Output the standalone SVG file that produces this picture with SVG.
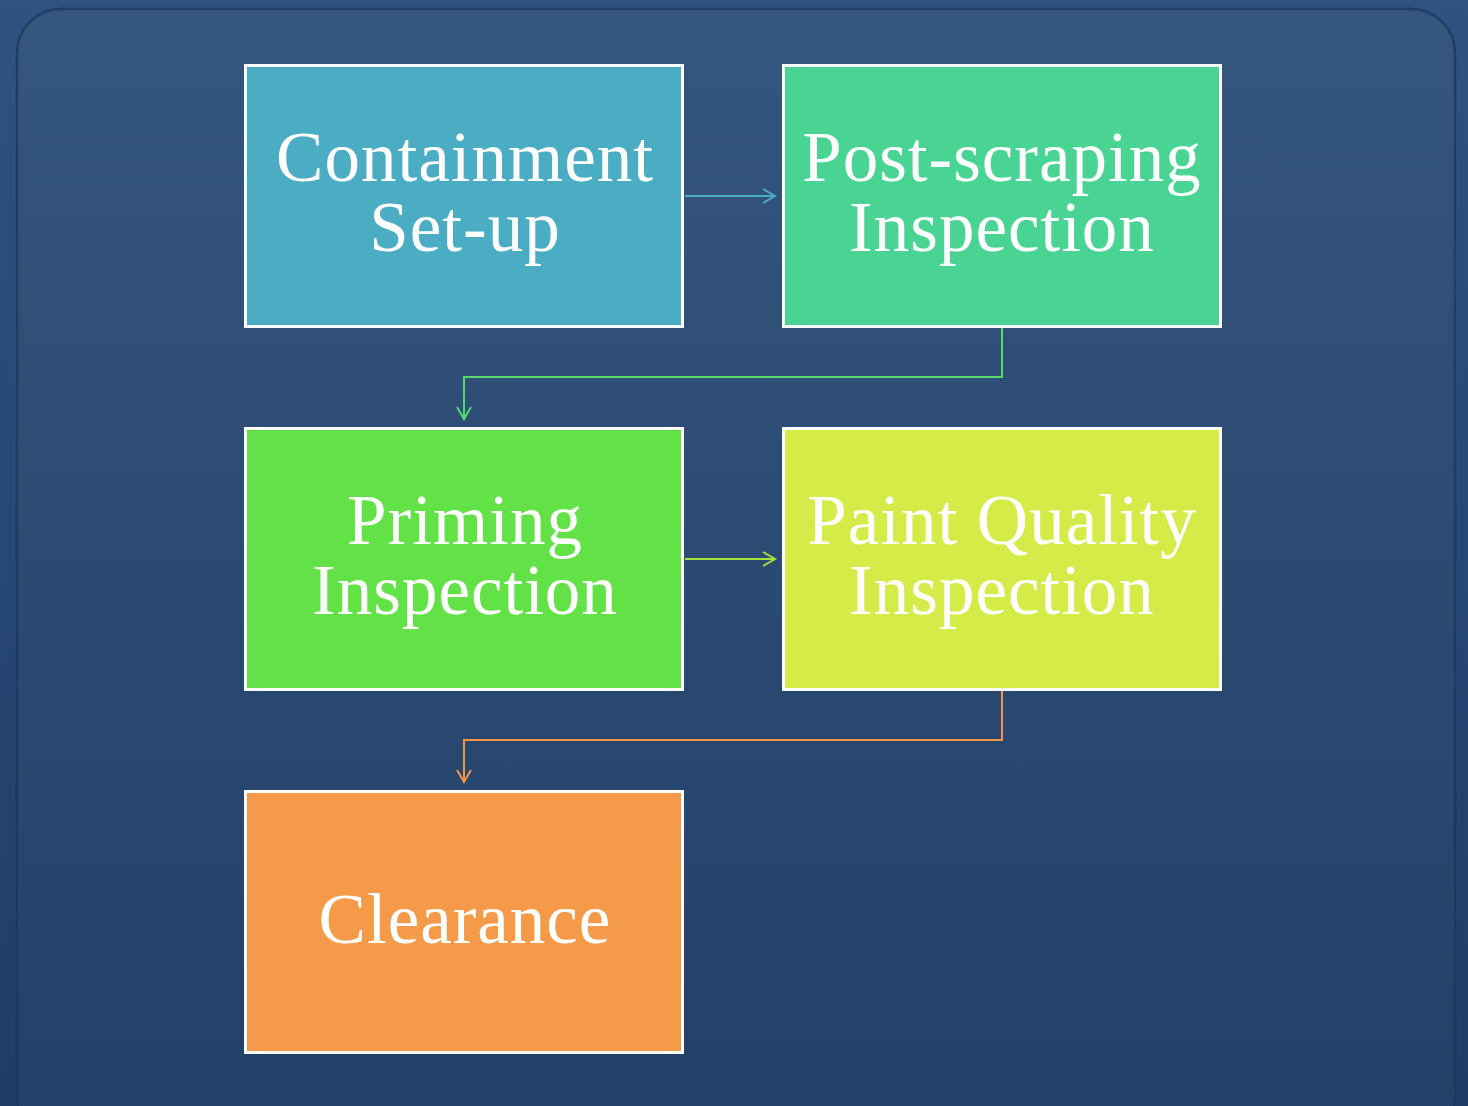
<svg xmlns="http://www.w3.org/2000/svg" width="1468" height="1106" viewBox="0 0 1468 1106">
  <defs>
    <linearGradient id="bg" x1="0" y1="0" x2="0" y2="1">
      <stop offset="0" stop-color="#35567f"/>
      <stop offset="1" stop-color="#223f67"/>
    </linearGradient>
    <linearGradient id="outer" x1="0" y1="0" x2="0" y2="1">
      <stop offset="0" stop-color="#2f5283"/>
      <stop offset="1" stop-color="#1f3c66"/>
    </linearGradient>
    <marker id="ahBlue" markerWidth="16" markerHeight="16" refX="13" refY="8" orient="auto" markerUnits="userSpaceOnUse">
      <path d="M1,1 L13,8 L1,15" fill="none" stroke="#4badc4" stroke-width="2"/>
    </marker>
    <marker id="ahGreen" markerWidth="16" markerHeight="16" refX="13" refY="8" orient="auto" markerUnits="userSpaceOnUse">
      <path d="M1,1 L13,8 L1,15" fill="none" stroke="#55d86c" stroke-width="2"/>
    </marker>
    <marker id="ahLime" markerWidth="16" markerHeight="16" refX="13" refY="8" orient="auto" markerUnits="userSpaceOnUse">
      <path d="M1,1 L13,8 L1,15" fill="none" stroke="#a6e33a" stroke-width="2"/>
    </marker>
    <marker id="ahOrange" markerWidth="16" markerHeight="16" refX="13" refY="8" orient="auto" markerUnits="userSpaceOnUse">
      <path d="M1,1 L13,8 L1,15" fill="none" stroke="#f39544" stroke-width="2"/>
    </marker>
  </defs>
  <style>
    .box { stroke: #ffffff; stroke-width: 3; }
    .lbl { font-family: "Liberation Serif", "DejaVu Serif", serif; font-size: 71px; fill: #ffffff; text-anchor: middle; letter-spacing: 1px; }
    .conn { fill: none; stroke-width: 2; }
  </style>

  <rect x="0" y="0" width="1468" height="1106" fill="url(#outer)"/>
  <rect x="17" y="9" width="1438" height="1130" rx="44" ry="44" fill="url(#bg)" stroke="#1d3658" stroke-width="2.5" stroke-opacity="0.7"/>

  <g id="connectors">
    <path class="conn" d="M685,196 L775,196" stroke="#4badc4" marker-end="url(#ahBlue)"/>
    <path class="conn" d="M1002,328 L1002,377 L464,377 L464,419" stroke="#55d86c" marker-end="url(#ahGreen)"/>
    <path class="conn" d="M685,559 L775,559" stroke="#a6e33a" marker-end="url(#ahLime)"/>
    <path class="conn" d="M1002,691 L1002,740 L464,740 L464,782" stroke="#f39544" marker-end="url(#ahOrange)"/>
  </g>

  <g id="node-containment">
    <rect class="box" x="245.5" y="65.5" width="437" height="261" fill="#4badc4"/>
    <text class="lbl" x="465" y="181">Containment</text>
    <text class="lbl" x="465" y="251">Set-up</text>
  </g>
  <g id="node-postscraping">
    <rect class="box" x="783.5" y="65.5" width="437" height="261" fill="#4ad494"/>
    <text class="lbl" x="1002" y="181">Post-scraping</text>
    <text class="lbl" x="1002" y="251">Inspection</text>
  </g>
  <g id="node-priming">
    <rect class="box" x="245.5" y="428.5" width="437" height="261" fill="#62e246"/>
    <text class="lbl" x="465" y="544">Priming</text>
    <text class="lbl" x="465" y="614">Inspection</text>
  </g>
  <g id="node-paintquality">
    <rect class="box" x="783.5" y="428.5" width="437" height="261" fill="#d5ec48"/>
    <text class="lbl" x="1002" y="544">Paint Quality</text>
    <text class="lbl" x="1002" y="614">Inspection</text>
  </g>
  <g id="node-clearance">
    <rect class="box" x="245.5" y="791.5" width="437" height="261" fill="#f59a48"/>
    <text class="lbl" x="465" y="943">Clearance</text>
  </g>
</svg>
